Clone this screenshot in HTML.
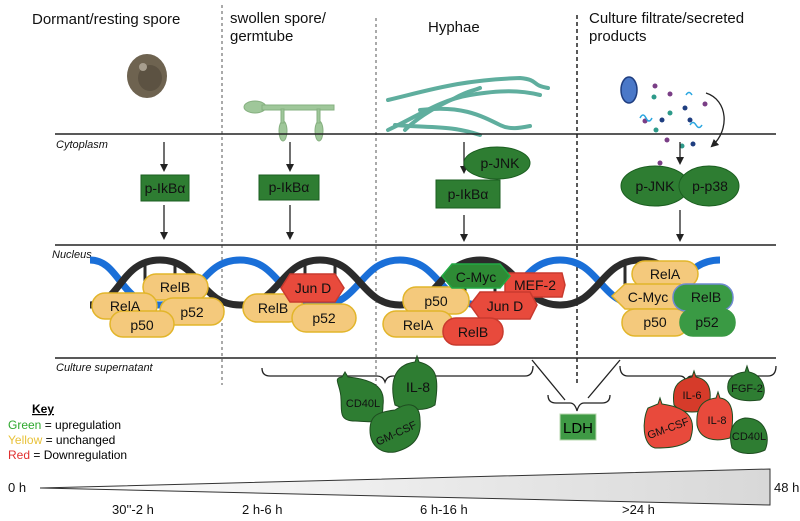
<!DOCTYPE html>
<html><head><meta charset="utf-8"><style>
body{margin:0;background:#fff}
svg{display:block;font-family:"Liberation Sans",sans-serif}
</style></head><body>
<svg width="800" height="521" viewBox="0 0 800 521">
<defs>
<marker id="ah" markerWidth="8" markerHeight="8" refX="6" refY="4" orient="auto" markerUnits="userSpaceOnUse"><path d="M0,0 L8,4 L0,8 Z" fill="#222"/></marker>
<linearGradient id="tg" x1="0" x2="1"><stop offset="0" stop-color="#fff"/><stop offset="1" stop-color="#d8d8d8"/></linearGradient>
</defs>
<g font-size="15" fill="#111">
<text x="32" y="24">Dormant/resting spore</text>
<text x="230" y="23">swollen spore/</text>
<text x="230" y="41">germtube</text>
<text x="428" y="32">Hyphae</text>
<text x="589" y="23">Culture filtrate/secreted</text>
<text x="589" y="41">products</text>
</g>
<g stroke="#555" stroke-dasharray="3,3" stroke-width="1">
<line x1="222" y1="5" x2="222" y2="385"/>
<line x1="376" y1="18" x2="376" y2="385"/>
</g>
<line x1="577" y1="15" x2="577" y2="385" stroke="#222" stroke-dasharray="4,3" stroke-width="1.5"/>
<ellipse cx="147" cy="76" rx="20" ry="22" fill="#6e6350"/>
<ellipse cx="150" cy="78" rx="12" ry="13" fill="#5c5242"/>
<circle cx="143" cy="67" r="4" fill="#a79e8e"/>
<g fill="#9fc79a" stroke="#86b080">
<ellipse cx="255" cy="107" rx="11" ry="6"/>
<rect x="262" y="105" width="72" height="5"/>
<ellipse cx="283" cy="131" rx="4" ry="10"/>
<rect x="281" y="109" width="3" height="14"/>
<ellipse cx="319" cy="131" rx="4" ry="10"/>
<rect x="317" y="109" width="3" height="14"/>
</g>
<g fill="none" stroke="#5fae9e" stroke-width="4" stroke-linecap="round">
<path d="M388,100 C430,90 460,80 520,78 C540,80 530,85 548,88"/>
<path d="M388,130 C420,115 440,100 470,95 C500,90 520,90 540,95"/>
<path d="M405,130 C420,115 440,105 455,98 C470,90 470,92 480,88"/>
<path d="M395,125 C430,128 450,125 480,135"/>
<path d="M420,110 C460,105 480,115 500,125 C510,130 520,128 530,126"/>
</g>
<ellipse cx="629" cy="90" rx="8" ry="13" fill="#4a78c8" stroke="#1f3e80" stroke-width="1.5"/>
<g>
<circle cx="662" cy="120" r="2.5" fill="#1f3e80"/><circle cx="654" cy="97" r="2.5" fill="#2d9a8a"/><circle cx="670" cy="113" r="2.5" fill="#2d9a8a"/>
<circle cx="685" cy="108" r="2.5" fill="#1f3e80"/><circle cx="667" cy="140" r="2.5" fill="#7a3e86"/><circle cx="660" cy="163" r="2.5" fill="#7a3e86"/>
<circle cx="645" cy="121" r="2.5" fill="#7a3e86"/><circle cx="655" cy="86" r="2.5" fill="#7a3e86"/><circle cx="670" cy="94" r="2.5" fill="#7a3e86"/>
<circle cx="705" cy="104" r="2.5" fill="#7a3e86"/><circle cx="682" cy="146" r="2.5" fill="#2d9a8a"/><circle cx="693" cy="144" r="2.5" fill="#1f3e80"/>
<circle cx="656" cy="130" r="2.5" fill="#2d9a8a"/><circle cx="690" cy="120" r="2.5" fill="#1f3e80"/>
</g>
<g stroke="#2aa6e0" stroke-width="1.5" fill="none">
<path d="M640,118 q3,-6 6,0 q3,6 6,0"/><path d="M686,95 q3,-5 6,0"/><path d="M690,125 q3,-5 6,0 q3,5 6,0"/>
</g>
<g stroke="#222" stroke-width="1.5">
<line x1="55" y1="134" x2="776" y2="134"/>
<line x1="55" y1="245" x2="776" y2="245"/>
<line x1="55" y1="358" x2="776" y2="358"/>
</g>
<g font-size="11" font-style="italic" fill="#111">
<text x="56" y="148">Cytoplasm</text>
<text x="52" y="258">Nucleus</text>
<text x="56" y="371">Culture supernatant</text>
</g>
<g stroke="#222" stroke-width="1.3" marker-end="url(#ah)">
<line x1="164" y1="142" x2="164" y2="170"/><line x1="164" y1="205" x2="164" y2="238"/>
<line x1="290" y1="142" x2="290" y2="170"/><line x1="290" y1="205" x2="290" y2="238"/>
<line x1="464" y1="142" x2="464" y2="172"/><line x1="464" y1="215" x2="464" y2="240"/>
<line x1="680" y1="142" x2="680" y2="163"/><line x1="680" y1="210" x2="680" y2="240"/>
</g>
<path d="M706,93 C728,100 730,130 712,146" stroke="#222" stroke-width="1.3" fill="none" marker-end="url(#ah)"/>
<g fill="#2e7d32" stroke="#1b5e20" stroke-width="1">
<rect x="141" y="175" width="48" height="26"/>
<rect x="259" y="175" width="60" height="25"/>
<ellipse cx="497" cy="163" rx="33" ry="16"/>
<rect x="436" y="180" width="64" height="28"/>
<ellipse cx="655" cy="186" rx="34" ry="20"/>
<ellipse cx="709" cy="186" rx="30" ry="20"/>
</g>
<g font-size="14" fill="#111" text-anchor="middle">
<text x="165" y="193">p-IkBα</text><text x="289" y="192">p-IkBα</text>
<text x="500" y="168">p-JNK</text><text x="468" y="199">p-IkBα</text>
<text x="655" y="191">p-JNK</text><text x="710" y="191">p-p38</text>
</g>
<g fill="none" stroke-width="7">
<path d="M90,260 C120,260 120,305 160,305 C200,305 200,260 240,260 C280,260 280,305 320,305 C360,305 360,260 400,260 C440,260 440,305 480,305 C520,305 520,260 560,260 C600,260 600,305 640,305 C680,305 680,260 720,260" stroke="#1a6fd8"/>
<path d="M90,305 C120,305 120,260 160,260 C200,260 200,305 240,305 C280,305 280,260 320,260 C360,260 360,305 400,305 C440,305 440,260 480,260 C520,260 520,305 560,305 C600,305 600,260 640,260 C680,260 680,305 720,305" stroke="#2b2b2b"/>
</g>
<g stroke="#2b2b2b" stroke-width="3">
<line x1="145" y1="264" x2="145" y2="300"/><line x1="175" y1="264" x2="175" y2="300"/><line x1="305" y1="264" x2="305" y2="300"/><line x1="335" y1="264" x2="335" y2="300"/>
<line x1="465" y1="264" x2="465" y2="300"/><line x1="495" y1="264" x2="495" y2="300"/><line x1="625" y1="264" x2="625" y2="300"/><line x1="655" y1="264" x2="655" y2="300"/>
</g>
<g stroke-width="1.5" font-size="14" text-anchor="middle" fill="#111">
<g fill="#f4c97c" stroke="#e2b52a">
<rect x="143" y="274" width="65" height="26" rx="13"/>
<rect x="92" y="293" width="65" height="26" rx="13"/>
<rect x="160" y="298" width="64" height="27" rx="13"/>
<rect x="110" y="311" width="64" height="26" rx="13"/>
<rect x="243" y="294" width="60" height="28" rx="14"/>
<rect x="292" y="304" width="64" height="28" rx="14"/>
<rect x="403" y="287" width="66" height="27" rx="13"/>
<rect x="383" y="311" width="70" height="26" rx="13"/>
<rect x="632" y="261" width="66" height="26" rx="13"/>
<path d="M612,296 L625,284 L680,284 L680,309 L625,309 Z"/>
<rect x="622" y="309" width="66" height="27" rx="13"/>
</g>
<g fill="#e84a3c" stroke="#c93a2e">
<path d="M281,288 L290,274 L335,274 L344,288 L335,302 L290,302 Z"/>
<path d="M505,273 L562,273 L565,285 L562,297 L505,297 Z"/>
<path d="M470,305 L480,292 L530,292 L537,305 L530,319 L480,319 Z"/>
<rect x="443" y="318" width="60" height="27" rx="13"/>
</g>
<g fill="#2e8b35" stroke="#22aa44">
<path d="M442,276 L452,264 L500,264 L510,276 L500,288 L452,288 Z"/>
</g>
<g fill="#3a9a44" stroke="#6f8ad0">
<rect x="673" y="284" width="60" height="27" rx="13"/>
</g>
<g fill="#3a9a44" stroke="#3a9a44">
<rect x="680" y="309" width="55" height="27" rx="13"/>
</g>
<g stroke="none">
<text x="175" y="292">RelB</text><text x="125" y="311">RelA</text><text x="192" y="317">p52</text><text x="142" y="330">p50</text>
<text x="313" y="293">Jun D</text><text x="273" y="313">RelB</text><text x="324" y="323">p52</text>
<text x="476" y="282">C-Myc</text><text x="535" y="290">MEF-2</text><text x="436" y="306">p50</text><text x="505" y="311">Jun D</text>
<text x="418" y="330">RelA</text><text x="473" y="337">RelB</text>
<text x="665" y="279">RelA</text><text x="648" y="302">C-Myc</text><text x="706" y="302">RelB</text><text x="655" y="327">p50</text><text x="707" y="327">p52</text>
</g>
</g>
<g fill="none" stroke="#222" stroke-width="1.3">
<path d="M262,368 q0,8 8,8 L377,376 q6,0 8,6 q2,-6 8,-6 L525,376 q8,0 8,-10"/>
<path d="M532,360 L565,400"/><path d="M620,360 L588,398"/>
<path d="M548,395 q0,8 8,8 L570,403 q5,0 7,8 q2,-8 7,-8 L602,403 q8,0 8,-8"/>
<path d="M620,366 q0,10 8,10 L680,376 q5,0 6,6 q1,-6 6,-6 L768,376 q8,0 8,-10"/>
</g>
<rect x="560" y="414" width="36" height="26" fill="#3f9a45" stroke="#b8d8b0"/>
<text x="578" y="433" font-size="15" text-anchor="middle">LDH</text>
<g stroke="#1e4d20" stroke-width="1">
<path d="M342,377 l3,-5 l3,5 C378,380 385,390 383,405 C383,425 375,422 355,421 C338,421 342,410 341,399 C341,385 332,378 342,377Z" fill="#2e7d32"/>
<path d="M415,362 l2,-6 l2,6 C435,366 440,375 435,405 C425,412 405,410 395,405 C390,385 392,365 415,362Z" fill="#2e7d32"/>
<path d="M395,410 C410,400 420,405 420,420 C422,440 410,448 395,452 C380,454 370,445 370,430 C370,415 378,412 395,410Z" fill="#2e7d32"/>
<path d="M692,377 l2,-6 l2,6 C712,380 712,395 708,410 C690,414 680,412 674,405 C672,390 675,380 692,377Z" fill="#d63b2a"/>
<path d="M716,398 l2,-6 l2,6 C735,400 734,420 730,438 C715,442 700,440 697,425 C696,410 700,400 716,398Z" fill="#e84a3c"/>
<path d="M658,404 l2,-6 l2,6 C690,408 697,420 690,440 C680,448 665,448 655,448 C642,445 642,420 648,408Z" fill="#e84a3c"/>
<path d="M745,372 l2,-6 l2,6 C765,375 768,395 760,400 C745,402 730,400 728,390 C726,378 735,373 745,372Z" fill="#2e7d32"/>
<path d="M745,418 C768,418 770,440 765,450 C755,455 740,455 732,448 C728,432 732,420 745,418Z" fill="#2e7d32"/>
</g>
<g font-size="11" fill="#111" text-anchor="middle">
<text x="363" y="407">CD40L</text><text x="418" y="392" font-size="14">IL-8</text>
<text x="396" y="437" transform="rotate(-25 396 433)">GM-CSF</text>
<text x="692" y="399">IL-6</text><text x="717" y="424">IL-8</text>
<text x="668" y="432" transform="rotate(-20 668 428)">GM-CSF</text>
<text x="747" y="392">FGF-2</text><text x="749" y="440">CD40L</text>
</g>
<g font-size="12">
<text x="32" y="413" font-weight="bold" text-decoration="underline">Key</text>
<text x="8" y="429"><tspan fill="#2ea82e">Green</tspan> = upregulation</text>
<text x="8" y="444"><tspan fill="#e8c23a">Yellow</tspan> = unchanged</text>
<text x="8" y="459"><tspan fill="#e03030">Red</tspan> = Downregulation</text>
</g>
<path d="M40,488 L770,469 L770,505 Z" fill="url(#tg)" stroke="#333" stroke-width="1"/>
<g font-size="13" fill="#111">
<text x="8" y="492">0 h</text><text x="774" y="492">48 h</text>
<text x="112" y="514">30''-2 h</text><text x="242" y="514">2 h-6 h</text><text x="420" y="514">6 h-16 h</text><text x="622" y="514">&gt;24 h</text>
</g>
</svg>
</body></html>
